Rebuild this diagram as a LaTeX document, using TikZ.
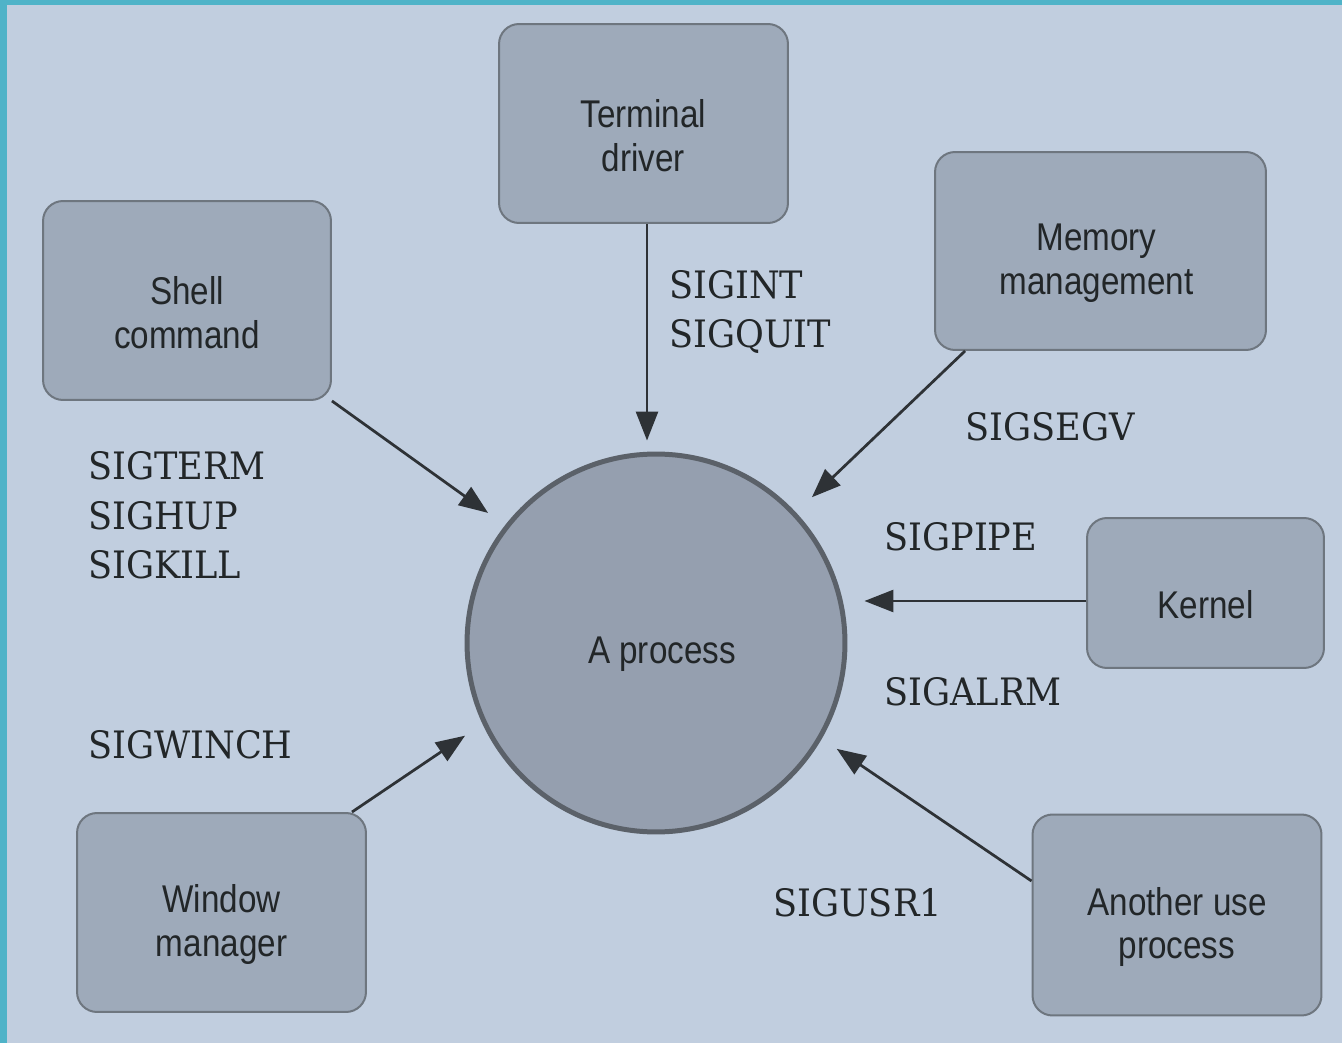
\documentclass[tikz,border=0pt]{standalone}
\usepackage{fontspec}
\setmainfont{DejaVu Serif}[FakeStretch=0.93]
\newfontfamily\boxfont{Liberation Sans}[FakeStretch=0.86]
\usetikzlibrary{arrows.meta}
\definecolor{bgblue}{HTML}{C1CEDF}
\definecolor{teal}{HTML}{4FB3C8}
\definecolor{boxfill}{HTML}{9EAABA}
\definecolor{boxline}{HTML}{6E767F}
\definecolor{circfill}{HTML}{959FAF}
\definecolor{circline}{HTML}{5B6169}
\definecolor{txt}{HTML}{222628}
\definecolor{arrcol}{HTML}{2E3236}
\tikzset{
  srcbox/.style={draw=boxline, fill=boxfill, line width=0.04cm, rounded corners=0.4cm,
    inner sep=0pt},
  boxtext/.style={align=center, inner sep=0pt, text=txt,
    font=\boxfont\fontsize{22}{25}\selectfont},
  proc/.style={circle, draw=circline, fill=circfill, line width=0.1cm, minimum size=7.56cm,
    inner sep=0pt},
  sig/.style={anchor=base west, align=left, inner sep=0pt, text=txt,
    font=\fontsize{21.5}{28.3}\selectfont},
  arr/.style={draw=arrcol, line width=0.055cm, -{Triangle[length=0.58cm,width=0.44cm]}}
}
\begin{document}
\begin{tikzpicture}[x=0.02cm,y=-0.02cm]
\useasboundingbox (0,0) rectangle (1342,1043);
\fill[teal] (0,0) rectangle (1342,1043);
\fill[bgblue] (7,5) rectangle (1342,1043);

\node[srcbox, minimum width=5.78cm, minimum height=3.98cm] (term) at (643.5,123.5) {};
\node[srcbox, minimum width=6.62cm, minimum height=3.96cm] (mem) at (1100.5,251) {};
\node[srcbox, minimum width=5.76cm, minimum height=3.98cm] (shell) at (187,300.5) {};
\node[srcbox, minimum width=4.74cm, minimum height=3.0cm] (kern) at (1205.5,593) {};
\node[srcbox, minimum width=5.78cm, minimum height=3.98cm] (win) at (221.5,912.5) {};
\node[srcbox, minimum width=5.78cm, minimum height=4.02cm] (other) at (1177,915) {};
\node[proc] (proc) at (656,643) {};

\node[boxtext] (termt) at ([yshift=-0.24cm]term.center) {Terminal\\driver};
\node[boxtext] (memt) at ([yshift=-0.24cm, xshift=-0.08cm]mem.center) {Memory\\management};
\node[boxtext] (shellt) at ([yshift=-0.24cm]shell.center) {Shell\\command};
\node[boxtext] (kernt) at ([yshift=-0.24cm]kern.center) {Kernel};
\node[boxtext] (wint) at ([yshift=-0.24cm]win.center) {Window\\manager};
\node[boxtext] (othert) at ([yshift=-0.24cm]other.center) {Another use\\process};
\node[boxtext] (proct) at ([yshift=-0.22cm, xshift=0.12cm]proc.center) {A process};

\draw[arr, shorten >=0.22cm] ([xshift=3.5*0.02cm]term.south) -- ([xshift=3.5*0.02cm]term.south |- proc.north);
\draw[arr, shorten >=0.42cm] (shell.south east) -- (proc.142.5);
\draw[arr, shorten >=0.44cm] ([xshift=0.62cm]mem.south west) -- (proc.43.9);
\draw[arr, shorten >=0.34cm] ([yshift=-0.16cm]kern.west) coordinate (k1) -- (k1 -| proc.east);
\draw[arr, shorten >=0.42cm] ([xshift=-0.3cm]win.north east) -- (proc.205.5);
\draw[arr, shorten >=0.36cm] ([yshift=0.68cm]other.west) -- (proc.330.7);

\node[sig] (l1) at (669,348) {SIGINT\\SIGQUIT};
\node[sig] (l2) at (965,441) {SIGSEGV};
\node[sig] (l3) at (88,579) {SIGTERM\\SIGHUP\\SIGKILL};
\node[sig] (l4) at (884,550) {SIGPIPE};
\node[sig] (l5) at (884,705) {SIGALRM};
\node[sig] (l6) at (88,758) {SIGWINCH};
\node[sig] (l7) at (773,916) {SIGUSR1};
\end{tikzpicture}
\end{document}
